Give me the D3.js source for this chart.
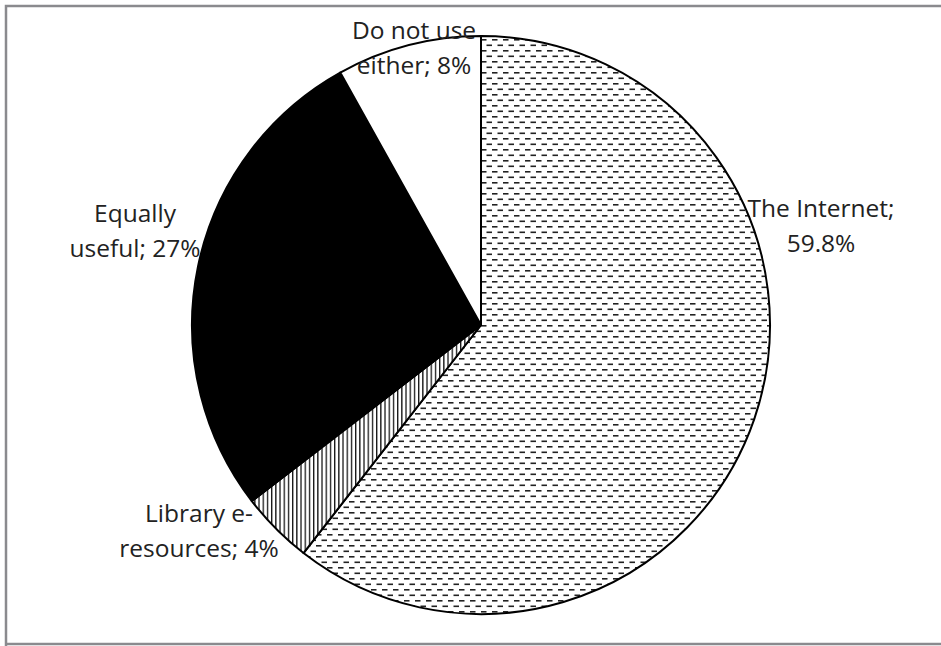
<!DOCTYPE html>
<html>
<head>
<meta charset="utf-8">
<script src="https://cdn.jsdelivr.net/npm/d3@7"></script>
<style>
  html, body { margin: 0; padding: 0; background: #fff; }
  svg { display: block; }
  .lbl { font-family: "Open Sans", sans-serif; font-size: 24.5px; fill: #222; }
</style>
</head>
<body>
<div id="chart"></div>
<script>
(function () {
  // data, clockwise from 12 o'clock
  const categories = ['The Internet', 'Library e-resources', 'Equally useful', 'Do not use either'];
  const values = [59.8, 4, 27, 8];
  const labelLines = [
    ['The Internet;', '59.8%'],
    ['Library e-', 'resources; 4%'],
    ['Equally', 'useful; 27%'],
    ['Do not use', 'either; 8%']
  ];
  const fills = ['url(#dashes)', 'url(#vlines)', '#000', '#fff'];

  // label anchors relative to pie centre (first baseline)
  const labelOffsets = [[340, -108], [-282, 197], [-346, -103], [-67, -286]];

  const width = 941, height = 646;
  const cx = 481, cy = 325, radius = 289;

  const svg = d3.select('#chart')
    .append('svg')
    .attr('width', width)
    .attr('height', height);

  const defs = svg.append('defs');

  //horizontal dash pattern, brick offset
  let dash = defs.append('pattern')
    .attr('id', 'dashes')
    .attr('patternUnits', 'userSpaceOnUse')
    .attr('width', 11)
    .attr('height', 11);
  dash.append('rect').attr('width', 11).attr('height', 11).attr('fill', '#fff');
  dash.append('rect').attr('x', 0).attr('y', 0).attr('width', 5.5).attr('height', 1.6).attr('fill', '#222');
  dash.append('rect').attr('x', 5.5).attr('y', 5.5).attr('width', 5.5).attr('height', 1.6).attr('fill', '#222');

  //vertical line pattern
  let vl = defs.append('pattern')
    .attr('id', 'vlines')
    .attr('patternUnits', 'userSpaceOnUse')
    .attr('width', 4.2)
    .attr('height', 10);
  vl.append('rect').attr('width', 4.2).attr('height', 10).attr('fill', '#fff');
  vl.append('rect').attr('x', 0).attr('y', 0).attr('width', 1.3).attr('height', 10).attr('fill', '#111');

  //outer frame
  svg.append('path')
    .attr('d', `M6,${height + 5} V6 H${width + 5}`)
    .attr('fill', 'none')
    .attr('stroke', '#8a8a8e')
    .attr('stroke-width', 2.5);
  svg.append('line')
    .attr('x1', 6).attr('x2', width + 5)
    .attr('y1', 644).attr('y2', 644)
    .attr('stroke', '#8a8a8e')
    .attr('stroke-width', 2.5);

  const pie = d3.pie().sort(null).value(d => d);
  const arc = d3.arc().innerRadius(0).outerRadius(radius);

  const g = svg.append('g')
    .attr('transform', `translate(${cx}, ${cy})`);

  g.selectAll('path.slice')
    .data(pie(values))
    .enter()
    .append('path')
    .attr('class', 'slice')
    .attr('d', arc)
    .attr('fill', (d, i) => fills[i])
    .attr('stroke', '#000')
    .attr('stroke-width', 2)
    .attr('stroke-linejoin', 'round');

  const lbl = g.selectAll('text.lbl')
    .data(labelLines)
    .enter()
    .append('text')
    .attr('class', 'lbl')
    .attr('text-anchor', 'middle')
    .attr('x', (d, i) => labelOffsets[i][0])
    .attr('y', (d, i) => labelOffsets[i][1]);

  lbl.each(function (lines, i) {
    d3.select(this).selectAll('tspan')
      .data(lines)
      .enter()
      .append('tspan')
      .attr('x', labelOffsets[i][0])
      .attr('dy', (d, j) => j === 0 ? 0 : 35)
      .text(d => d);
  });
})();
</script>
</body>
</html>
